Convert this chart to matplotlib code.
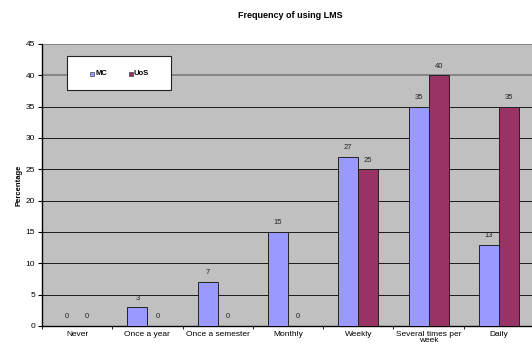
import matplotlib
matplotlib.use("Agg")
import matplotlib.pyplot as plt
import numpy as np
from matplotlib.patches import Rectangle

categories = ["Never", "Once a year", "Once a semester", "Monthly", "Weekly",
              "Several times per\nweek", "Daily"]
mc = [0, 3, 7, 15, 27, 35, 13]
uos = [0, 0, 0, 0, 25, 40, 35]
series_names = ["MC", "UoS"]
yticks = list(range(0, 50, 5))

plt.rcParams['font.family'] = ['Liberation Sans', 'DejaVu Sans']

fig = plt.figure(figsize=(5.32, 3.45), dpi=100)
ax = fig.add_axes([42 / 532, 19 / 345, 492 / 532, 282 / 345])
ax.set_facecolor("#C0C0C0")

x = np.arange(len(categories))
w = 20 / 70.3
c_mc = "#9999FF"
c_uos = "#993366"
b1 = ax.bar(x - w / 2, mc, w, color=c_mc, edgecolor="#222222", linewidth=0.7, zorder=3)
b2 = ax.bar(x + w / 2, uos, w, color=c_uos, edgecolor="#222222", linewidth=0.7, zorder=3)

for bars, vals in ((b1, mc), (b2, uos)):
    for r, v in zip(bars, vals):
        ax.text(r.get_x() + r.get_width() / 2, v + 0.9, f"{v}", ha="center",
                va="bottom", fontsize=5.5, color="#222222", zorder=4)

ax.set_xlim(-0.5, len(categories) - 0.5)
ax.set_ylim(0, 45)
ax.set_yticks(yticks)
ax.set_yticklabels([str(t) for t in yticks], fontsize=6)
for t in yticks[1:]:
    if t == 40 or t == 45:
        ax.axhline(t, color="#808080", linewidth=1.3, zorder=1)
    else:
        ax.axhline(t, color="#1a1a1a", linewidth=0.7, zorder=1)

ax.set_xticks(x)
ax.set_xticklabels(categories, fontsize=6, linespacing=0.85)
ax.tick_params(axis="x", length=0, pad=3.5)
ax.set_xticks(np.arange(len(categories) + 1) - 0.5, minor=True)
ax.tick_params(axis="x", which="minor", length=2.5, direction="out", width=0.6)
ax.tick_params(axis="y", length=3, width=0.8, direction="out", pad=2)

for side in ("top", "right"):
    ax.spines[side].set_visible(False)
ax.spines["left"].set_linewidth(1.0)
ax.spines["bottom"].set_linewidth(1.0)

ax.set_ylabel("Percentage", fontsize=5.5, fontweight="bold", labelpad=2)
fig.text(290 / 532, 1 - 15 / 345, "Frequency of using LMS", ha="center",
         va="center", fontsize=6.5, fontweight="bold")

# legend box
leg = Rectangle((67 / 532, 1 - 90 / 345), 104 / 532, 34 / 345,
                transform=fig.transFigure, facecolor="white",
                edgecolor="#222222", linewidth=0.8, zorder=5)
fig.add_artist(leg)
for (px, name, col) in ((92, series_names[0], c_mc), (131, series_names[1], c_uos)):
    sq = Rectangle(((px - 2) / 532, 1 - 75.5 / 345), 4 / 532, 4 / 345,
                   transform=fig.transFigure, facecolor=col,
                   edgecolor="#222222", linewidth=0.4, zorder=6)
    fig.add_artist(sq)
    fig.text((px + 3) / 532, 1 - 73.5 / 345, name, ha="left", va="center",
             fontsize=5.5, fontweight="bold", zorder=6)

fig.savefig("out.png", dpi=100)
